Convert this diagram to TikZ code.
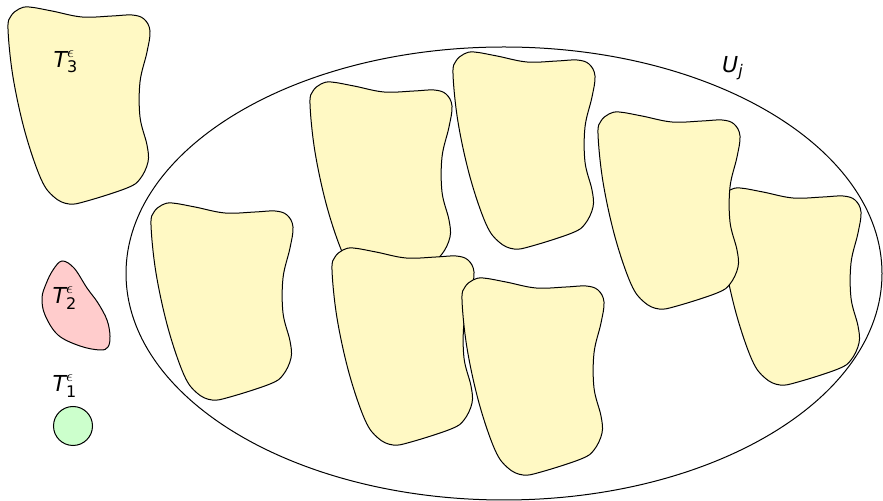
\documentclass[tikz,border=0pt]{standalone}
\usepackage{fontspec}
\setmainfont{DejaVu Sans}
\definecolor{blobYellow}{RGB}{255,249,196}
\definecolor{blobPink}{RGB}{255,204,204}
\definecolor{blobGreen}{RGB}{204,255,204}
\newcommand{\setlabel}[2]{$\hbox{\itshape #1}^{\epsilon}_{\hbox{\fontsize{8}{9}\selectfont #2}}$}

\begin{document}
\begin{tikzpicture}[
  x=0.5pt, y=-0.5pt,
  outline/.style={draw=black, line width=0.5pt},
  lbl/.style={font=\fontsize{11}{13}\selectfont, inner sep=0pt},
  blob/.pic={
    \draw[outline, fill=blobYellow] plot[smooth cycle, tension=0.6] coordinates {
      (1,22) (4,9) (12,2) (22,0) (45,4) (75,10) (105,9) (125,8) (137,12) (143,24)
      (140,45) (133,75) (133,110) (140,138) (141,155) (133,172) (120,181)
      (80,194) (62,197) (47,190) (34,172) (18,125) (6,70)};
  }
]
  \useasboundingbox (0,0) rectangle (883,501);

  % the set U_j
  \draw[outline] (504,273.5) ellipse [x radius=378, y radius=226.5];
  \node[lbl] (uj) at (733,68) {$\hbox{\itshape U}_{\hbox{\fontsize{8}{9}\selectfont\itshape j}}$};

  % pieces, back to front
  \foreach \px/\py in {7/7, 150/203, 718/188, 597/112, 309/82, 452/52, 331/248, 461/278}
    \pic at (\px,\py) {blob};

  % small sets on the left
  \draw[outline, fill=blobPink] plot[smooth cycle, tension=0.6] coordinates {
    (62,261) (53,270) (46,284) (42,298) (45,315) (58,335) (80,346) (100,350)
    (108,347) (110,336) (107,320) (98,303) (87,288) (74,268)};
  \node[draw=black, line width=0.5pt, fill=blobGreen, circle, minimum size=19.5pt, inner sep=0pt] (t1c) at (73,426) {};

  \node[lbl] (t3) at (66,62) {\setlabel{T}{3}};
  \node[lbl] (t2) at (65,298) {\setlabel{T}{2}};
  \node[lbl] (t1) at (65,386) {\setlabel{T}{1}};
\end{tikzpicture}
\end{document}
